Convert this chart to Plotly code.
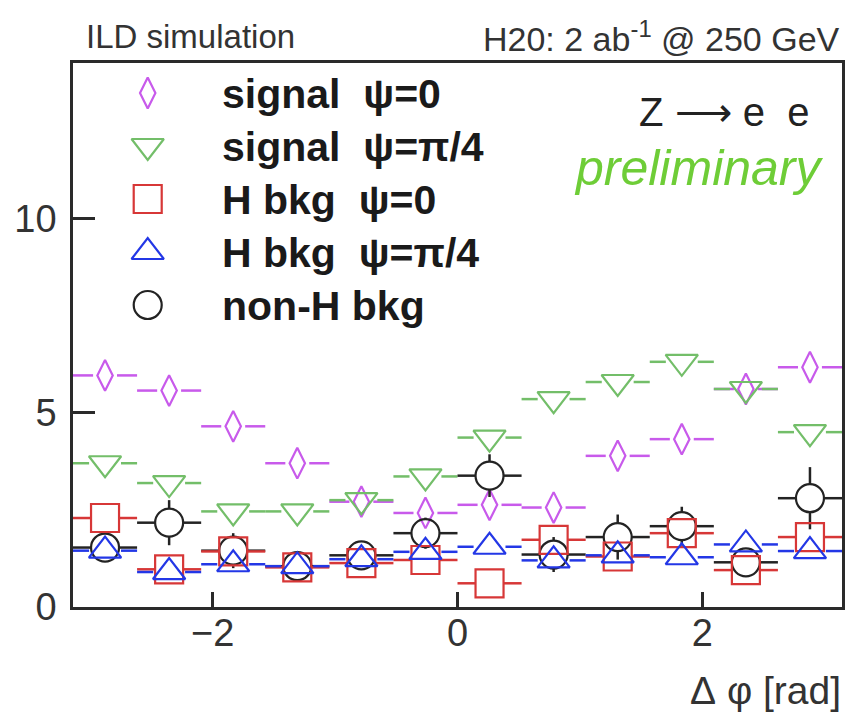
import numpy as np
import plotly.graph_objects as go

# ---------------- data ----------------
n_bins = 12
bin_edges = np.linspace(-np.pi, np.pi, n_bins + 1)
bin_centers = 0.5 * (bin_edges[:-1] + bin_edges[1:])
bin_half = 0.5 * (bin_edges[1] - bin_edges[0])

signal_psi0 = [5.96, 5.57, 4.65, 3.70, 2.71, 2.42, 2.63, 2.56, 3.89, 4.32, 5.61, 6.17]
signal_psi0_err = [0.15] * 12
signal_psi4 = [3.70, 3.19, 2.46, 2.46, 2.75, 3.36, 4.36, 5.35, 5.79, 6.31, 5.61, 4.50]
signal_psi4_err = [0.15] * 12
hbkg_psi0 = [2.29, 0.97, 1.43, 1.02, 1.13, 1.21, 0.61, 1.73, 1.30, 1.90, 0.95, 1.80]
hbkg_psi0_err = [0.1] * 12
hbkg_psi4 = [1.45, 0.90, 1.10, 1.05, 1.23, 1.42, 1.55, 1.20, 1.33, 1.28, 1.61, 1.44]
hbkg_psi4_err = [0.1] * 12
nonh_bkg = [1.53, 2.17, 1.45, 1.05, 1.33, 1.90, 3.38, 1.35, 1.80, 2.08, 1.15, 2.80]
nonh_bkg_err = [0.35, 0.58, 0.45, 0.30, 0.35, 0.40, 0.55, 0.45, 0.58, 0.50, 0.35, 0.80]

legend_labels = ["signal\u00a0\u00a0\u03c8=0", "signal\u00a0\u00a0\u03c8=\u03c0/4",
                 "H bkg\u00a0\u00a0\u03c8=0", "H bkg\u00a0\u00a0\u03c8=\u03c0/4", "non-H bkg"]
x_ticks = [-2, 0, 2]
y_ticks = [0, 5, 10]
x_range = [-np.pi, np.pi]
y_range = [0, 14]

# ---------------- style ----------------
W, H = 849, 713
L, R, T, B = 73, 845, 63, 607
FONT = "Liberation Sans, Arial, Helvetica, sans-serif"
AX = "#2a2a2a"

px_per_x = (R - L) / (x_range[1] - x_range[0])
px_per_y = (B - T) / (y_range[1] - y_range[0])

series = [
    dict(v=signal_psi0, e=signal_psi0_err, col="rgb(200,90,235)", sym="diamond-tall-open", size=22, gap=12),
    dict(v=signal_psi4, e=signal_psi4_err, col="rgb(115,190,105)", sym="triangle-down-open", size=28, gap=16),
    dict(v=nonh_bkg, e=nonh_bkg_err, col="rgb(35,35,35)", sym="circle-open", size=28, gap=14),
    dict(v=hbkg_psi0, e=hbkg_psi0_err, col="rgb(215,55,55)", sym="square-open", size=28, gap=14),
    dict(v=hbkg_psi4, e=hbkg_psi4_err, col="rgb(35,55,230)", sym="triangle-up-open", size=28, gap=16),
]
legend_order = [0, 1, 3, 4, 2]

fig = go.Figure()

for s in series:
    gx = s["gap"] / px_per_x
    gy = s["gap"] / px_per_y
    hx, hy = [], []
    for xc, v in zip(bin_centers, s["v"]):
        hx += [xc - bin_half, xc - gx, None, xc + gx, xc + bin_half, None]
        hy += [v, v, None, v, v, None]
    vx, vy = [], []
    for xc, v, e in zip(bin_centers, s["v"], s["e"]):
        if e > gy:
            vx += [xc, xc, None, xc, xc, None]
            vy += [v + gy, v + e, None, v - gy, v - e, None]
    fig.add_trace(go.Scatter(x=hx, y=hy, mode="lines", line=dict(color=s["col"], width=2.5),
                             hoverinfo="skip", showlegend=False))
    if vx:
        fig.add_trace(go.Scatter(x=vx, y=vy, mode="lines", line=dict(color=s["col"], width=2.5),
                                 hoverinfo="skip", showlegend=False))
    fig.add_trace(go.Scatter(x=bin_centers, y=s["v"], mode="markers",
                             marker=dict(symbol=s["sym"], size=s["size"], color=s["col"],
                                         line=dict(color=s["col"], width=2.2)),
                             showlegend=False))

# ---------------- manual legend (pixel overlay axes) ----------------
leg_x_sym = 148
leg_x_txt = 221
leg_y0, leg_dy = 93, 53
for row, idx in enumerate(legend_order):
    s = series[idx]
    y = leg_y0 + row * leg_dy
    fig.add_trace(go.Scatter(x=[leg_x_sym], y=[y], mode="markers", xaxis="x2", yaxis="y2",
                             marker=dict(symbol=s["sym"], size=s["size"], color=s["col"],
                                         line=dict(color=s["col"], width=2.2)),
                             cliponaxis=False, showlegend=False, hoverinfo="skip"))

def pxx(px):
    return (px - L) / (R - L)

def pxy(py):
    return (B - py) / (B - T)

annotations = []
for row, lab in enumerate(legend_labels):
    y = leg_y0 + row * leg_dy
    annotations.append(dict(text="<b>" + lab + "</b>", x=pxx(leg_x_txt), y=pxy(y + 1),
                            xref="paper", yref="paper", xanchor="left", yanchor="middle",
                            showarrow=False, font=dict(family=FONT, size=41, color="#1a1a1a")))

annotations += [
    dict(text="ILD simulation", x=pxx(84), y=pxy(36), xref="paper", yref="paper",
         xanchor="left", yanchor="middle", showarrow=False,
         font=dict(family=FONT, size=33, color="#333")),
    dict(text="H20: 2 ab<sup>-1</sup> @ 250 GeV", x=pxx(845), y=pxy(36), xref="paper", yref="paper",
         xanchor="right", yanchor="middle", showarrow=False,
         font=dict(family=FONT, size=34, color="#333")),
    dict(text="Z\u00a0\u27f6\u00a0e\u00a0\u00a0e", x=pxx(814), y=pxy(112), xref="paper", yref="paper",
         xanchor="right", yanchor="middle", showarrow=False,
         font=dict(family=FONT, size=40, color="#222")),
    dict(text="<i>preliminary</i>", x=pxx(829), y=pxy(168), xref="paper", yref="paper",
         xanchor="right", yanchor="middle", showarrow=False,
         font=dict(family=FONT, size=50, color="rgb(110,205,55)")),
    dict(text="\u0394\u00a0\u03c6 [rad]", x=pxx(846), y=pxy(690), xref="paper", yref="paper",
         xanchor="right", yanchor="middle", showarrow=False,
         font=dict(family=FONT, size=39, color="#333")),
]

fig.update_layout(
    width=W, height=H,
    margin=dict(l=L, r=W - R, t=T, b=H - B, pad=0),
    paper_bgcolor="white", plot_bgcolor="white",
    showlegend=False,
    annotations=annotations,
    xaxis=dict(range=x_range, tickvals=x_ticks, ticktext=["\u22122", "0", "2"],
               showgrid=False, zeroline=False, showline=True, mirror=True,
               linecolor=AX, linewidth=2.5, ticks="inside", ticklen=15, tickwidth=2.5,
               tickcolor=AX, tickfont=dict(family=FONT, size=38, color="#333"),
               ticklabelstandoff=-9),
    yaxis=dict(range=y_range, tickvals=y_ticks, ticktext=["0", "5", "10"],
               showgrid=False, zeroline=False, showline=True, mirror=True,
               linecolor=AX, linewidth=2.5, ticks="inside", ticklen=22, tickwidth=2.5,
               tickcolor=AX, tickfont=dict(family=FONT, size=38, color="#333"),
               ticklabelstandoff=6),
    xaxis2=dict(range=[L, R], overlaying="x", anchor="y2", visible=False, fixedrange=True),
    yaxis2=dict(range=[B, T], overlaying="y", anchor="x2", visible=False, fixedrange=True),
)

fig.write_html("out.html")
